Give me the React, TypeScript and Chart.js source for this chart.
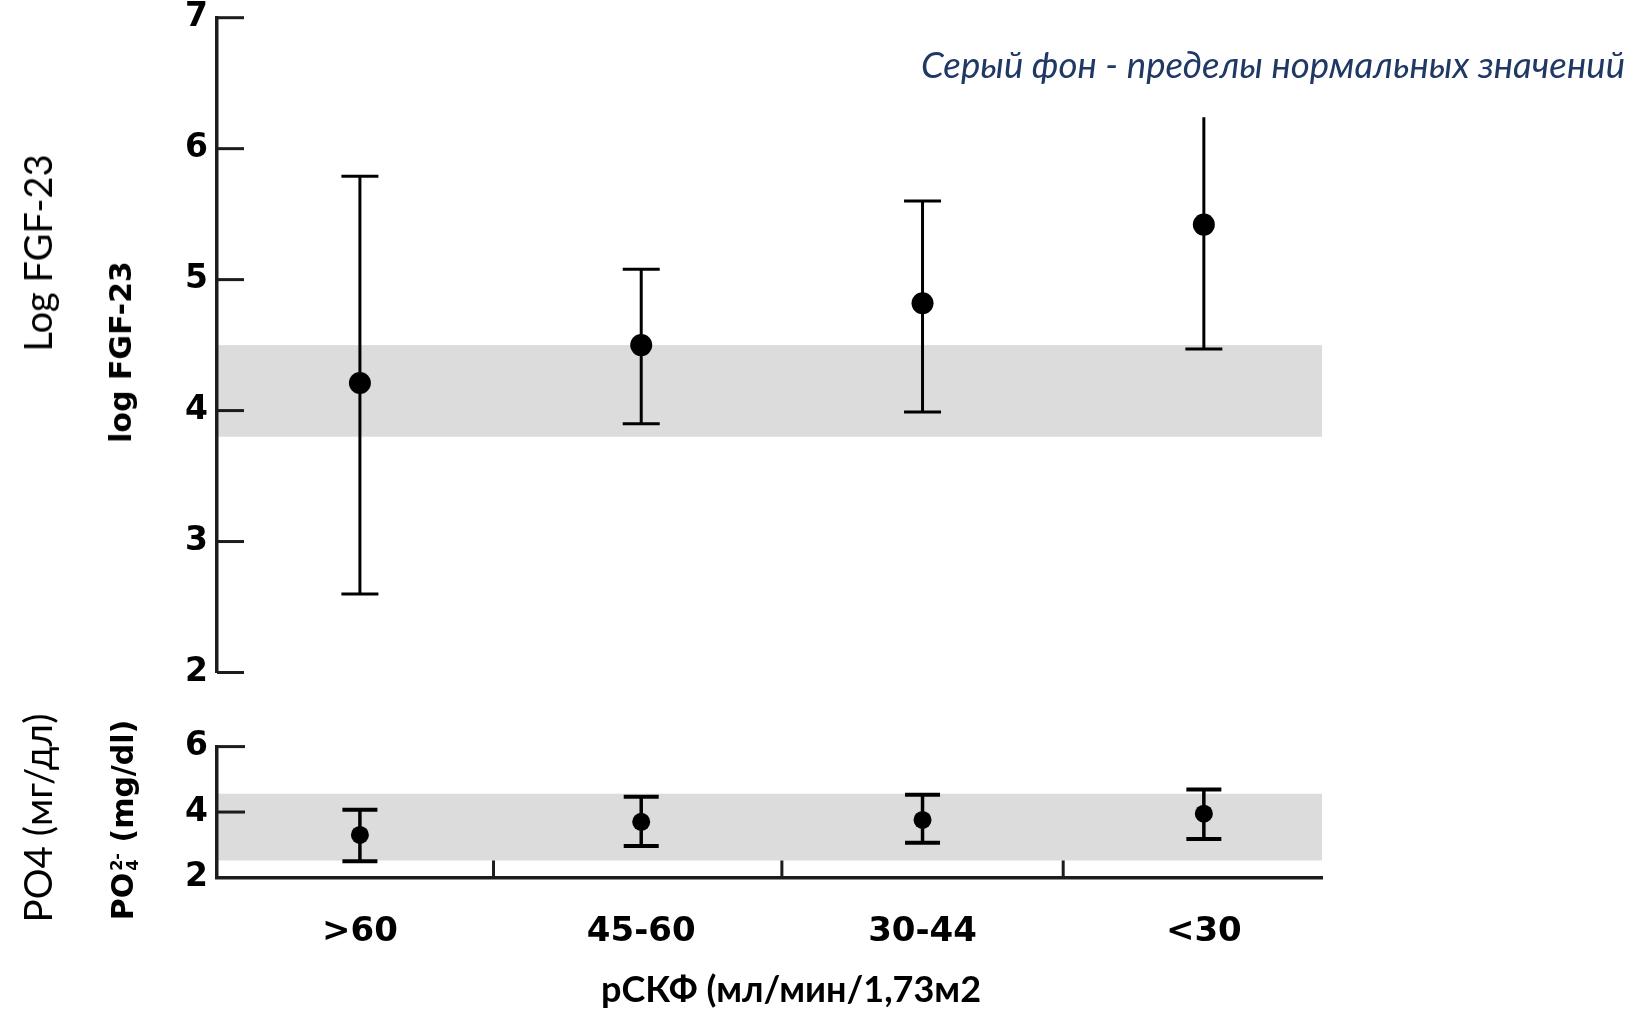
import React, { useEffect, useRef } from "react";
import { Chart, registerables } from "chart.js";

Chart.register(...registerables);

// ---------- data ----------
const categories = [">60", "45-60", "30-44", "<30"];

const fgfMean = [4.21, 4.5, 4.82, 5.42];
const fgfLow = [2.6, 3.9, 3.99, 4.47];
const fgfHigh = [5.79, 5.08, 5.6, 6.24];
const fgfHighCap = [true, true, true, false];
const fgfNormal = [3.8, 4.5];
const fgfTicks = [2, 3, 4, 5, 6, 7];

const po4Mean = [3.3, 3.7, 3.76, 3.95];
const po4Low = [2.5, 2.96, 3.06, 3.18];
const po4High = [4.07, 4.47, 4.53, 4.69];
const po4HighCap = [true, true, true, true];
const po4Normal = [2.52, 4.56];
const po4Ticks = [2, 4, 6];

const categoryDividers = [1.475, 2.5, 3.5];

const X_MIN = 0.492;
const X_MAX = 4.42;
const AXIS = "#1c1c1c";
const BAND = "#dcdcdc";
const TICK_FONT = { family: "'DejaVu Sans', sans-serif", weight: "bold" as const, size: 33, lineHeight: 1 };
const XTICK_FONT = { family: "'DejaVu Sans', sans-serif", weight: "bold" as const, size: 34, lineHeight: 1 };

type Bars = {
  mean: number[];
  low: number[];
  high: number[];
  highCap: boolean[];
  band: number[];
  yTicks: number[];
  xTicks: number[];
  lineWidth: number;
  capWidth: number;
  capHalf: number;
  yTickLen: number;
  xTickLen: number;
};

function decorPlugin(cfg: Bars) {
  return {
    id: "decor",
    beforeDraw(chart: any) {
      const { ctx, chartArea } = chart;
      const y = chart.scales.y;
      const yTop = y.getPixelForValue(cfg.band[1]);
      const yBot = y.getPixelForValue(cfg.band[0]);
      ctx.save();
      ctx.fillStyle = BAND;
      ctx.fillRect(chartArea.left, yTop, chartArea.right - chartArea.left, yBot - yTop);
      ctx.restore();
    },
    beforeDatasetsDraw(chart: any) {
      const { ctx, chartArea } = chart;
      const x = chart.scales.x;
      const y = chart.scales.y;
      ctx.save();
      ctx.strokeStyle = AXIS;
      ctx.lineWidth = 3;
      ctx.lineCap = "butt";
      cfg.yTicks.forEach((v) => {
        const py = y.getPixelForValue(v);
        ctx.beginPath();
        ctx.moveTo(chartArea.left, py);
        ctx.lineTo(chartArea.left + cfg.yTickLen, py);
        ctx.stroke();
      });
      cfg.xTicks.forEach((v) => {
        const px = x.getPixelForValue(v);
        ctx.beginPath();
        ctx.moveTo(px, chartArea.bottom);
        ctx.lineTo(px, chartArea.bottom - cfg.xTickLen);
        ctx.stroke();
      });
      ctx.strokeStyle = "#000";
      cfg.mean.forEach((_m, i) => {
        const px = x.getPixelForValue(i + 1);
        const pl = y.getPixelForValue(cfg.low[i]);
        const ph = y.getPixelForValue(cfg.high[i]);
        ctx.lineWidth = cfg.lineWidth;
        ctx.beginPath();
        ctx.moveTo(px, pl);
        ctx.lineTo(px, ph);
        ctx.stroke();
        ctx.lineWidth = cfg.capWidth;
        ctx.beginPath();
        ctx.moveTo(px - cfg.capHalf, pl);
        ctx.lineTo(px + cfg.capHalf, pl);
        ctx.stroke();
        if (cfg.highCap[i]) {
          ctx.beginPath();
          ctx.moveTo(px - cfg.capHalf, ph);
          ctx.lineTo(px + cfg.capHalf, ph);
          ctx.stroke();
        }
      });
      ctx.restore();
    },
  };
}

function makeConfig(opts: {
  bars: Bars;
  yMin: number;
  yMax: number;
  showX: boolean;
  padding: any;
  xHeight: number;
  radius: number;
}): any {
  const { bars } = opts;
  return {
    type: "scatter",
    data: {
      datasets: [
        {
          data: bars.mean.map((v, i) => ({ x: i + 1, y: v })),
          pointRadius: opts.radius,
          pointHoverRadius: opts.radius,
          pointBackgroundColor: "#000",
          pointBorderWidth: 0,
          showLine: false,
        },
      ],
    },
    options: {
      responsive: false,
      animation: false,
      devicePixelRatio: 1,
      layout: { padding: opts.padding },
      plugins: { legend: { display: false }, tooltip: { enabled: false } },
      scales: {
        x: {
          type: "linear",
          min: X_MIN,
          max: X_MAX,
          display: opts.showX,
          afterBuildTicks: (s: any) => {
            s.ticks = categories.map((_c, i) => ({ value: i + 1 }));
          },
          afterFit: (s: any) => {
            s.height = opts.xHeight;
          },
          grid: { display: false, drawTicks: false },
          border: { display: true, color: AXIS, width: 3.5 },
          ticks: {
            autoSkip: false,
            maxRotation: 0,
            padding: 38,
            color: "#000",
            font: XTICK_FONT,
            callback: (v: any) => categories[Math.round(v) - 1] ?? "",
          },
        },
        y: {
          type: "linear",
          min: opts.yMin,
          max: opts.yMax,
          afterBuildTicks: (s: any) => {
            s.ticks = bars.yTicks.map((v) => ({ value: v }));
          },
          afterFit: (s: any) => {
            s.width = 217;
          },
          grid: { display: false, drawTicks: false },
          border: { display: true, color: AXIS, width: 3.5 },
          ticks: { padding: 9, color: "#000", font: TICK_FONT },
        },
      },
    },
    plugins: [decorPlugin(bars)],
  };
}

function ChartCanvas({ config, top, height }: { config: any; top: number; height: number }) {
  const ref = useRef<HTMLCanvasElement | null>(null);
  useEffect(() => {
    if (!ref.current) return;
    const chart = new Chart(ref.current, config);
    return () => chart.destroy();
  }, []);
  return (
    <canvas
      ref={ref}
      width={1635}
      height={height}
      style={{ position: "absolute", left: 0, top, width: 1635, height }}
    />
  );
}

function VText({ x, y, style, children }: { x: number; y: number; style: any; children: any }) {
  return (
    <div
      style={{
        position: "absolute",
        left: x,
        top: y,
        transform: "translate(-50%, -50%) rotate(-90deg)",
        whiteSpace: "nowrap",
        lineHeight: 1,
        ...style,
      }}
    >
      {children}
    </div>
  );
}

const CALIBRI = "Lato, 'Open Sans', sans-serif";
const BOLDSANS = "'DejaVu Sans', sans-serif";

export default function App() {
  const topConfig = makeConfig({
    bars: {
      mean: fgfMean,
      low: fgfLow,
      high: fgfHigh,
      highCap: fgfHighCap,
      band: fgfNormal,
      yTicks: fgfTicks,
      xTicks: [],
      lineWidth: 3,
      capWidth: 3,
      capHalf: 18.5,
      yTickLen: 27,
      xTickLen: 0,
    },
    yMin: 2,
    yMax: 7,
    showX: false,
    padding: { left: 0, right: 313, top: 29.7, bottom: 29.5 },
    xHeight: 0,
    radius: 11,
  });
  const bottomConfig = makeConfig({
    bars: {
      mean: po4Mean,
      low: po4Low,
      high: po4High,
      highCap: po4HighCap,
      band: po4Normal,
      yTicks: po4Ticks,
      xTicks: categoryDividers,
      lineWidth: 3.5,
      capWidth: 4,
      capHalf: 17.5,
      yTickLen: 28,
      xTickLen: 17,
    },
    yMin: 2,
    yMax: 6,
    showX: true,
    padding: { left: 0, right: 313, top: 46.6, bottom: 0 },
    xHeight: 133.5,
    radius: 9,
  });

  return (
    <div
      style={{
        position: "fixed",
        left: 0,
        top: 0,
        width: 1635,
        height: 1011,
        background: "#fff",
        overflow: "hidden",
      }}
    >
      <ChartCanvas config={topConfig} top={-12} height={714} />
      <ChartCanvas config={bottomConfig} top={700} height={311} />

      <div
        style={{
          position: "absolute",
          right: 10,
          top: 46,
          fontFamily: CALIBRI,
          fontStyle: "italic",
          fontSize: 36.6,
          lineHeight: 1,
          color: "#1f3864",
          whiteSpace: "nowrap",
        }}
      >
        Серый фон - пределы нормальных значений
      </div>

      <VText x={37} y={253} style={{ fontFamily: CALIBRI, fontSize: 38, color: "#000" }}>
        Log FGF-23
      </VText>
      <VText x={37} y={818} style={{ fontFamily: CALIBRI, fontSize: 38.5, color: "#000" }}>
        PO4 (мг/дл)
      </VText>
      <VText x={121} y={352} style={{ fontFamily: BOLDSANS, fontWeight: "bold", fontSize: 30, color: "#000" }}>
        log FGF-23
      </VText>
      <VText x={124} y={820} style={{ fontFamily: BOLDSANS, fontWeight: "bold", fontSize: 30, color: "#000" }}>
        <span>PO</span>
        <span
          style={{
            display: "inline-flex",
            flexDirection: "column",
            fontSize: 16,
            lineHeight: 1,
            verticalAlign: "middle",
            marginLeft: 2,
          }}
        >
          <span>2-</span>
          <span>4</span>
        </span>
        <span> (mg/dl)</span>
      </VText>

      <div
        style={{
          position: "absolute",
          left: 791,
          top: 988,
          transform: "translate(-50%, -50%)",
          fontFamily: CALIBRI,
          fontWeight: "bold",
          fontSize: 36,
          lineHeight: 1,
          color: "#000",
          whiteSpace: "nowrap",
        }}
      >
        рСКФ (мл/мин/1,73м2
      </div>
    </div>
  );
}
